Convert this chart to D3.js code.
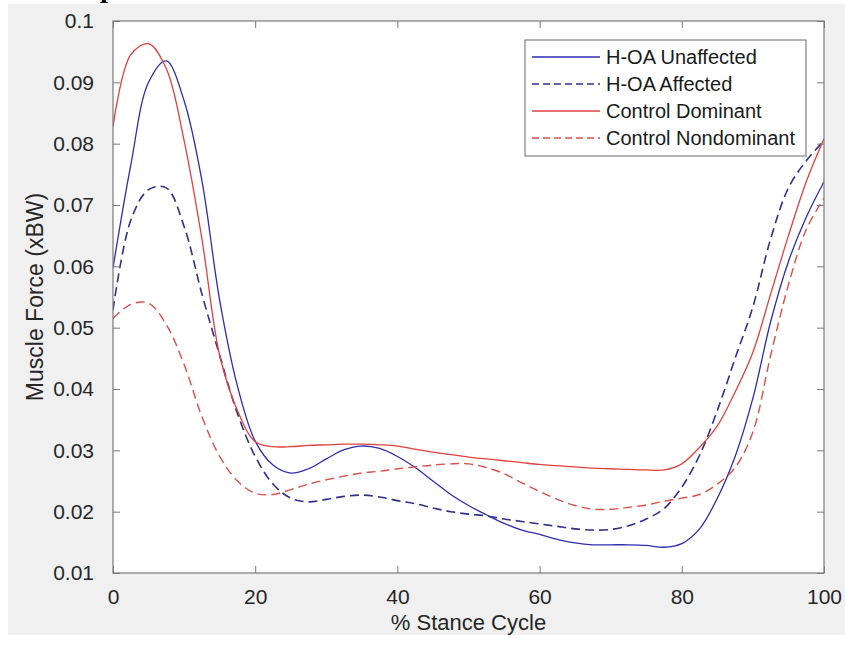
<!DOCTYPE html>
<html>
<head>
<meta charset="utf-8">
<script src="https://cdn.jsdelivr.net/npm/d3@7"></script>
<style>
  body { margin: 0; background: #fff; }
  svg { display: block; font-family: "Liberation Sans", Arial, sans-serif; }
</style>
</head>
<body>
<div id="chart"></div>
<script>
// ============================================================
// Muscle force over the stance cycle, H-OA vs control limbs
// ============================================================

// % stance cycle sample points
const stance = [0, 2.5, 5, 7.5, 10, 12.5, 15, 17.5, 20, 22.5, 25, 27.5, 30, 32.5, 35, 37.5, 40,
  42.5, 45, 47.5, 50, 52.5, 55, 57.5, 60, 62.5, 65, 67.5, 70, 72.5, 75, 77.5, 80,
  82.5, 85, 87.5, 90, 92.5, 95, 97.5, 100];

// muscle force (xBW)
const hoaUnaffected = [0.0597, 0.0765, 0.0900, 0.0935, 0.0870, 0.0740, 0.0545, 0.0405, 0.0315, 0.0276,
  0.0263, 0.0270, 0.0286, 0.0301, 0.0307, 0.0303, 0.0290, 0.0272, 0.0250, 0.0228, 0.0210,
  0.0195, 0.0181, 0.0170, 0.0163, 0.0155, 0.0149, 0.0146, 0.0146, 0.0146, 0.0145, 0.0142,
  0.0148, 0.0172, 0.0222, 0.0290, 0.0385, 0.0510, 0.0608, 0.0680, 0.0738];

const hoaAffected = [0.0529, 0.0675, 0.0725, 0.0728, 0.0665, 0.0555, 0.0455, 0.0360, 0.0290, 0.0245,
  0.0222, 0.0216, 0.0220, 0.0225, 0.0227, 0.0224, 0.0218, 0.0213, 0.0206, 0.0200, 0.0196,
  0.0193, 0.0188, 0.0184, 0.0180, 0.0176, 0.0172, 0.0170, 0.0171, 0.0177, 0.0188, 0.0205,
  0.0240, 0.0292, 0.0365, 0.0450, 0.0534, 0.0645, 0.0728, 0.0772, 0.0805];

const ctrlDominant = [0.0828, 0.0945, 0.0963, 0.0922, 0.0805, 0.0645, 0.0455, 0.0365, 0.0314, 0.0306,
  0.0306, 0.0308, 0.0309, 0.0310, 0.0310, 0.0309, 0.0307, 0.0302, 0.0297, 0.0293, 0.0289,
  0.0286, 0.0283, 0.0280, 0.0277, 0.0275, 0.0273, 0.0271, 0.0270, 0.0269, 0.0268, 0.0268,
  0.0278, 0.0305, 0.0340, 0.0395, 0.0460, 0.0555, 0.0650, 0.0738, 0.0808];

const ctrlNondominant = [0.0515, 0.0538, 0.0540, 0.0505, 0.0440, 0.0355, 0.0290, 0.0250, 0.0230, 0.0228,
  0.0236, 0.0245, 0.0252, 0.0258, 0.0263, 0.0266, 0.0270, 0.0273, 0.0276, 0.0278, 0.0278,
  0.0272, 0.0262, 0.0247, 0.0233, 0.0220, 0.0210, 0.0204, 0.0204, 0.0207, 0.0211, 0.0217,
  0.0222, 0.0228, 0.0245, 0.0272, 0.0330, 0.0455, 0.0570, 0.0660, 0.0711];

const seriesNames = ['H-OA Unaffected', 'H-OA Affected', 'Control Dominant', 'Control Nondominant'];
const xTicks = [0, 20, 40, 60, 80, 100];
const yTicks = [0.01, 0.02, 0.03, 0.04, 0.05, 0.06, 0.07, 0.08, 0.09, 0.1];

const W = 845, H = 645;
const margin = { top: 21, right: 21, bottom: 72, left: 113 };
const w = W - margin.left - margin.right;
const h = H - margin.top - margin.bottom;

const blue = '#2d2db0', red = '#e0403f';
const styles = [
  { color: blue, dash: null, width: 1.3 },
  { color: '#30308e', dash: '9,5', width: 1.6 },
  { color: red, dash: null, width: 1.3 },
  { color: '#d9504a', dash: '9,5', width: 1.4 }
];

const series = [hoaUnaffected, hoaAffected, ctrlDominant, ctrlNondominant].map((vals, i) => ({
  name: seriesNames[i],
  style: styles[i],
  points: stance.map((s, j) => ({ x: s, y: vals[j] }))
}));

const svg = d3.select('#chart').append('svg')
  .attr('width', W).attr('height', H);

// figure background (grey, with a thin white strip top/left like the screenshot)
svg.append('rect').attr('x', 8).attr('y', 4).attr('width', W - 8).attr('height', 631).attr('fill', '#f0f0f0');

// cut-off caption fragment at the very top
svg.append('text')
  .attr('x', 100).attr('y', -3)
  .style('font-family', '"Liberation Serif", serif').style('font-weight', 'bold').style('font-size', '28px')
  .style('fill', '#000')
  .text('p');

const g = svg.append('g').attr('transform', `translate(${margin.left},${margin.top})`);

const x = d3.scaleLinear().domain([0, 100]).range([0, w]);
const y = d3.scaleLinear().domain([0.01, 0.1]).range([h, 0]);

g.append('rect').attr('width', w).attr('height', h).attr('fill', '#fff');

svg.append('clipPath').attr('id', 'clip')
  .append('rect').attr('width', w).attr('height', h);

// Lines
const line = d3.line()
  .x(d => x(d.x))
  .y(d => y(d.y))
  .curve(d3.curveCatmullRom.alpha(0.5));

g.append('g').attr('clip-path', 'url(#clip)')
  .selectAll('path')
  .data(series)
  .join('path')
  .attr('d', d => line(d.points))
  .attr('fill', 'none')
  .attr('stroke', d => d.style.color)
  .attr('stroke-width', d => d.style.width)
  .attr('stroke-dasharray', d => d.style.dash);

// Axes (box with inward ticks on all four sides)
const axisCol = '#7a7a7a', labelCol = '#262626';
const fmt = d3.format('~g');
const tk = 7;

const styleAxis = sel => {
  sel.select('.domain').remove();
  sel.selectAll('line').attr('stroke', axisCol);
  sel.selectAll('text').style('font-size', '21px').style('fill', labelCol)
    .style('font-family', '"Liberation Sans", Arial, sans-serif');
};

g.append('g').attr('transform', `translate(0,${h})`)
  .call(d3.axisBottom(x).tickValues(xTicks).tickSizeInner(-tk).tickSizeOuter(0).tickPadding(16).tickFormat(fmt))
  .call(styleAxis);

g.append('g')
  .call(d3.axisTop(x).tickValues(xTicks).tickSizeInner(-tk).tickSizeOuter(0).tickFormat(''))
  .call(styleAxis);

g.append('g')
  .call(d3.axisLeft(y).tickValues(yTicks).tickSizeInner(-tk).tickSizeOuter(0).tickPadding(19).tickFormat(fmt))
  .call(styleAxis);

g.append('g').attr('transform', `translate(${w},0)`)
  .call(d3.axisRight(y).tickValues(yTicks).tickSizeInner(-tk).tickSizeOuter(0).tickFormat(''))
  .call(styleAxis);

g.append('rect').attr('width', w).attr('height', h)
  .attr('fill', 'none').attr('stroke', axisCol).attr('stroke-width', 1.2);

// Axis labels
g.append('text')
  .attr('x', w / 2).attr('y', h + 57).attr('text-anchor', 'middle')
  .style('font-size', '22px').style('fill', labelCol)
  .text('% Stance Cycle');

g.append('text')
  .attr('transform', `translate(${-70},${h / 2}) rotate(-90)`).attr('text-anchor', 'middle')
  .style('font-size', '23px').style('fill', labelCol)
  .text('Muscle Force (xBW)');

// Legend
const lg = svg.append('g').attr('transform', 'translate(525,40)');
lg.append('rect').attr('width', 281).attr('height', 116)
  .attr('fill', '#fff').attr('stroke', '#6a6a6a').attr('stroke-width', 1);

const rowY = d3.scalePoint().domain(seriesNames).range([17, 98]);

const items = lg.selectAll('.leg-i')
  .data(series)
  .join('g')
  .attr('class', 'leg-i')
  .attr('transform', d => `translate(0,${rowY(d.name)})`);

items.append('line')
  .attr('x1', 7).attr('x2', 75)
  .attr('stroke', d => d.style.color)
  .attr('stroke-width', d => d.style.width)
  .attr('stroke-dasharray', d => d.style.dash ? '7,4' : null);

items.append('text')
  .attr('x', 81).attr('dy', '0.35em')
  .style('font-size', '20px').style('fill', '#1a1a1a')
  .text(d => d.name);
</script>
</body>
</html>
